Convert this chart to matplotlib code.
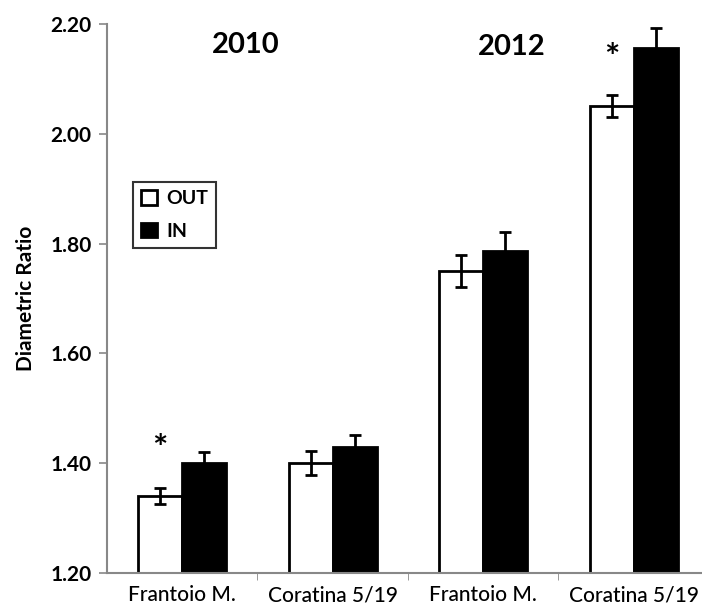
import matplotlib
matplotlib.use("Agg")
import matplotlib.pyplot as plt
import numpy as np

categories = ["Frantoio M.", "Coratina 5/19", "Frantoio M.", "Coratina 5/19"]
out_vals = [1.34, 1.40, 1.75, 2.05]
out_err = [0.015, 0.022, 0.03, 0.02]
in_vals = [1.40, 1.43, 1.787, 2.157]
in_err = [0.02, 0.022, 0.034, 0.035]
yticks = [1.20, 1.40, 1.60, 1.80, 2.00, 2.20]
years = ["2010", "2012"]

plt.rcParams['font.family'] = ['Lato', 'DejaVu Sans']

fig = plt.figure(figsize=(7.02, 6.10), dpi=100)
ax = fig.add_axes([0.152, 0.0607, 0.848, 0.9])

x = np.arange(len(categories))
w = 0.292
ekw = dict(elinewidth=2, capthick=2, ecolor='black')
ax.bar(x - w/2, out_vals, w, color='white', edgecolor='black', linewidth=2,
       yerr=out_err, capsize=4, error_kw=ekw, label='OUT', zorder=2)
ax.bar(x + w/2, in_vals, w, color='black', edgecolor='black', linewidth=2,
       yerr=in_err, capsize=4, error_kw=ekw, label='IN', zorder=2)

ax.set_ylim(1.20, 2.20)
ax.set_xlim(-0.5, 3.453)
ax.set_yticks(yticks)
ax.set_yticklabels([f"{v:.2f}" for v in yticks], fontsize=15, fontweight='bold')
ax.set_xticks(x)
ax.set_xticklabels(categories, fontsize=15, fontweight='medium')
ax.tick_params(axis='x', length=0, pad=9)
ax.set_xticks([0.5, 1.5, 2.5], minor=True)
ax.tick_params(axis='x', which='minor', length=5, color='#888888', direction='out')
ax.tick_params(axis='y', length=6, color='#888888', width=1.2, pad=5)

for s in ['top', 'right']:
    ax.spines[s].set_visible(False)
for s in ['left', 'bottom']:
    ax.spines[s].set_color('#888888')
    ax.spines[s].set_linewidth(1.5)

ax.set_ylabel("Diametric Ratio", fontsize=15, fontweight='bold', labelpad=10)

ax.text(0.42, 2.162, years[0], fontsize=21, fontweight='bold', ha='center', va='center')
ax.text(2.19, 2.158, years[1], fontsize=21, fontweight='bold', ha='center', va='center')
ax.text(x[0] - w/2, 1.425, "*", fontsize=26, fontweight='bold', ha='center', va='center')
ax.text(x[3] - w/2, 2.138, "*", fontsize=26, fontweight='bold', ha='center', va='center')

leg = ax.legend(loc='upper left', bbox_to_anchor=(0.045, 0.712), fontsize=14,
                frameon=True, fancybox=False, edgecolor='black', handlelength=0.8,
                handleheight=0.8, handletextpad=0.5, borderpad=0.4, labelspacing=0.8,
                borderaxespad=0)
leg.get_frame().set_linewidth(1.5)
for t in leg.get_texts():
    t.set_fontweight('bold')

fig.savefig("out.png", dpi=100)
